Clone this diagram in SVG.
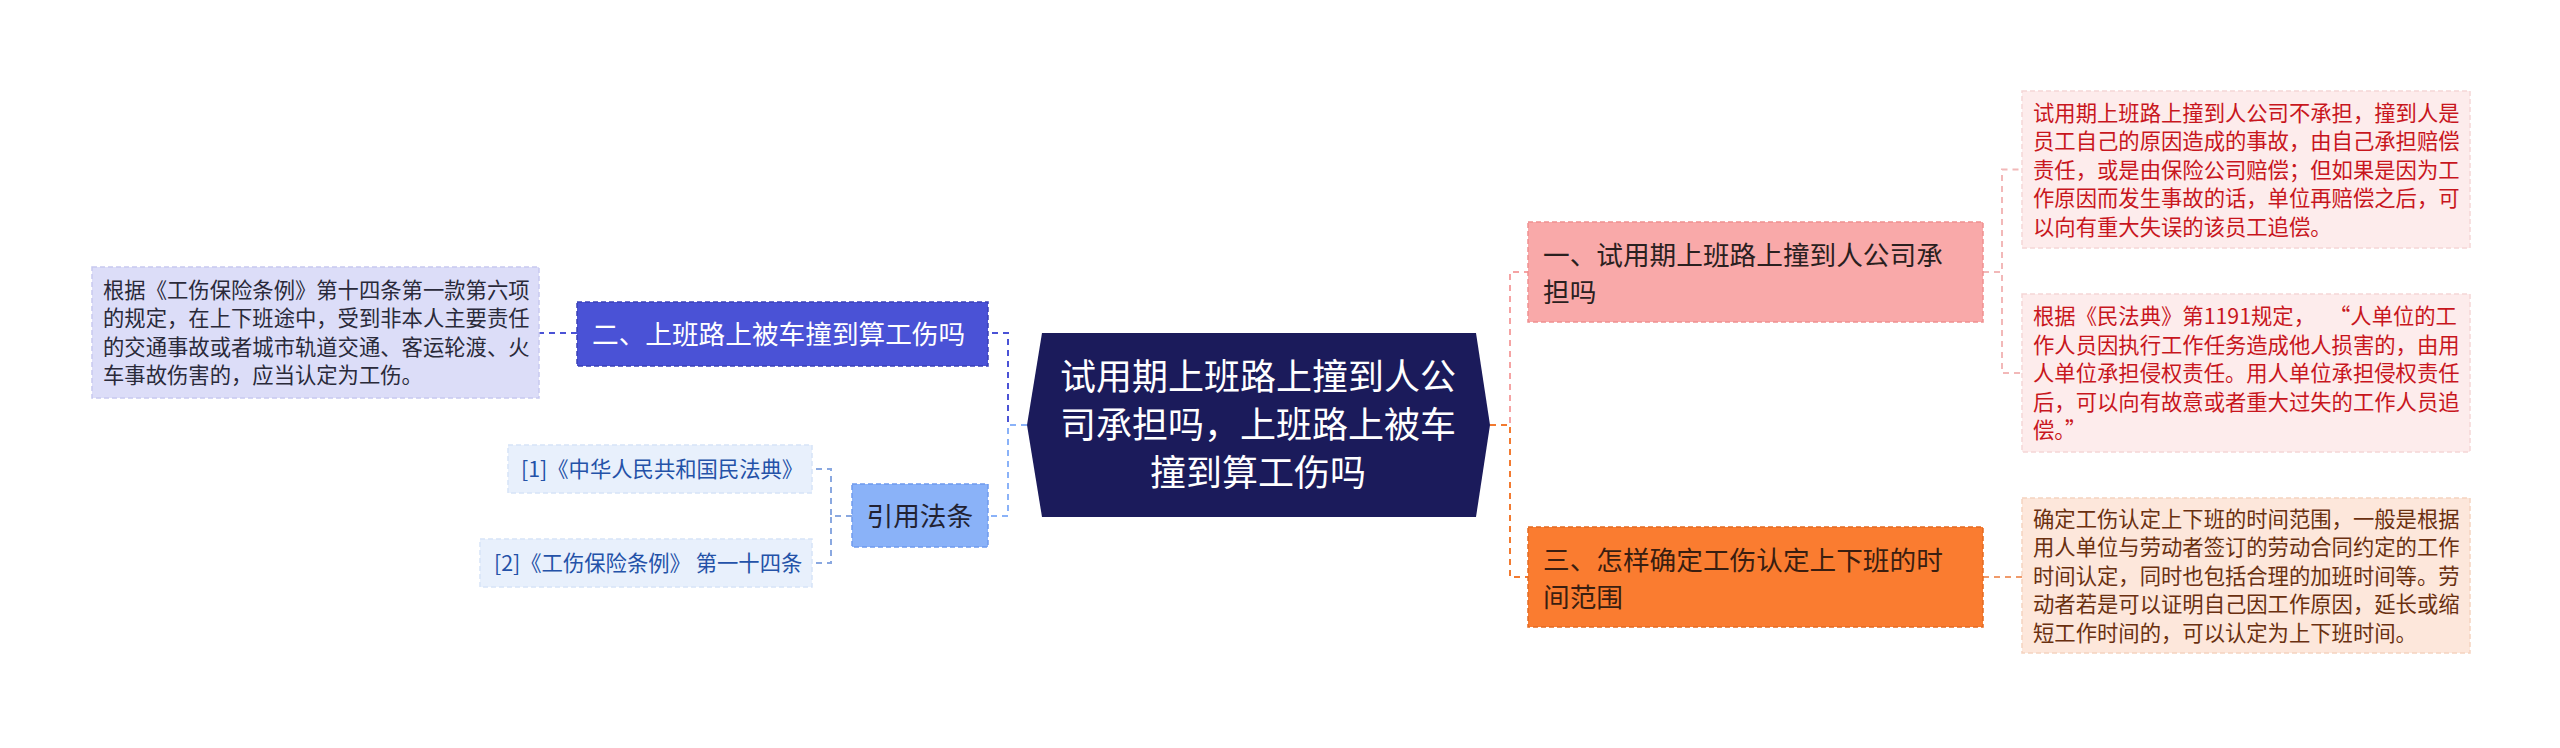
<svg xmlns="http://www.w3.org/2000/svg" width="2560" height="748" viewBox="0 0 2560 748">
<style>
text{font-family:"Noto Sans CJK SC","Noto Sans",sans-serif;}
.conn{fill:none;stroke-width:2;stroke-dasharray:6 5;}
.bx{stroke-width:1.5;stroke-dasharray:5 3;}
.c36{font-size:36px;fill:#ffffff;}
.c27{font-size:26.67px;}
.c21{font-size:21.33px;}
</style>
<rect width="2560" height="748" fill="#ffffff"/>
<g id="connectors">
<path class="conn" stroke="#4a52d6" d="M1027,425 H1008 V333 H988"/>
<path class="conn" stroke="#8ab2f8" d="M1027,425 H1008 V516 H988"/>
<path class="conn" stroke="#4a52d6" d="M577,333 H539"/>
<path class="conn" stroke="#8aa8e0" d="M852,516 H831 V469 H812"/>
<path class="conn" stroke="#8aa8e0" d="M852,516 H831 V563 H812"/>
<path class="conn" stroke="#f5a3a3" d="M1490,425 H1510 V272 H1528"/>
<path class="conn" stroke="#f27a30" d="M1490,425 H1510 V577 H1528"/>
<path class="conn" stroke="#f2b8b8" d="M1983,272 H2002 V169.5 H2022"/>
<path class="conn" stroke="#f2b8b8" d="M1983,272 H2002 V373 H2022"/>
<path class="conn" stroke="#f09a6a" d="M1983,577 H2022"/>
</g>
<g id="center">
<polygon points="1027,425 1042,333 1476,333 1490,425 1476,517 1042,517" fill="#1b1b5b"/>
<text class="c36" x="1258" y="389.5" text-anchor="middle">试用期上班路上撞到人公</text>
<text class="c36" x="1258" y="437.5" text-anchor="middle">司承担吗，上班路上被车</text>
<text class="c36" x="1258" y="485.5" text-anchor="middle">撞到算工伤吗</text>
</g>
<g id="node-er">
<rect class="bx" x="577" y="302" width="411" height="64" fill="#4a52d6" stroke="#3a40b8"/>
<text class="c27" x="592" y="344" fill="#ffffff">二、上班路上被车撞到算工伤吗</text>
</g>
<g id="node-er-detail">
<rect class="bx" x="92" y="267" width="447" height="131" fill="#dcddf8" stroke="#c7c9f0"/>
<text class="c21" fill="#2a2a3a">
<tspan x="103" y="297.8">根据《工伤保险条例》第十四条第一款第六项</tspan>
<tspan x="103" y="326.3">的规定，在上下班途中，受到非本人主要责任</tspan>
<tspan x="103" y="354.8">的交通事故或者城市轨道交通、客运轮渡、火</tspan>
<tspan x="103" y="383.3">车事故伤害的，应当认定为工伤。</tspan>
</text>
</g>
<g id="node-law">
<rect class="bx" x="852" y="484" width="136" height="63" fill="#8ab2f8" stroke="#6f9aee"/>
<text class="c27" x="866.5" y="525.5" fill="#222233">引用法条</text>
</g>
<g id="node-law1">
<rect class="bx" x="508" y="445" width="304" height="48" fill="#e8f0fc" stroke="#d6e3f8"/>
<text class="c21" x="521" y="477" fill="#2452a8">[1]《中华人民共和国民法典》</text>
</g>
<g id="node-law2">
<rect class="bx" x="480" y="539" width="332" height="48" fill="#e8f0fc" stroke="#d6e3f8"/>
<text class="c21" x="494" y="571" fill="#2452a8">[2]《工伤保险条例》 第一十四条</text>
</g>
<g id="node-yi">
<rect class="bx" x="1528" y="222" width="455" height="100" fill="#f9a9a9" stroke="#ef9090"/>
<text class="c27" fill="#2a2020">
<tspan x="1543" y="264.5">一、试用期上班路上撞到人公司承</tspan>
<tspan x="1543" y="301.5">担吗</tspan>
</text>
</g>
<g id="node-san">
<rect class="bx" x="1528" y="527" width="455" height="100" fill="#fa7c30" stroke="#e46a20"/>
<text class="c27" fill="#3a1e10">
<tspan x="1543" y="569.5">三、怎样确定工伤认定上下班的时</tspan>
<tspan x="1543" y="606.5">间范围</tspan>
</text>
</g>
<g id="node-yi-detail1">
<rect class="bx" x="2022" y="91" width="448" height="157" fill="#fdecec" stroke="#f5d6d6"/>
<text class="c21" fill="#c8161d">
<tspan x="2033" y="120.5">试用期上班路上撞到人公司不承担，撞到人是</tspan>
<tspan x="2033" y="149">员工自己的原因造成的事故，由自己承担赔偿</tspan>
<tspan x="2033" y="177.5">责任，或是由保险公司赔偿；但如果是因为工</tspan>
<tspan x="2033" y="206">作原因而发生事故的话，单位再赔偿之后，可</tspan>
<tspan x="2033" y="234.5">以向有重大失误的该员工追偿。</tspan>
</text>
</g>
<g id="node-yi-detail2">
<rect class="bx" x="2022" y="294" width="448" height="158" fill="#fdecec" stroke="#f5d6d6"/>
<text class="c21" fill="#c8161d">
<tspan x="2033" y="324">根据《民法典》第1191规定，</tspan><tspan dx="14" y="324">“人单位的工</tspan>
<tspan x="2033" y="352.5">作人员因执行工作任务造成他人损害的，由用</tspan>
<tspan x="2033" y="381">人单位承担侵权责任。用人单位承担侵权责任</tspan>
<tspan x="2033" y="409.5">后，可以向有故意或者重大过失的工作人员追</tspan>
<tspan x="2033" y="438">偿。”</tspan>
</text>
</g>
<g id="node-san-detail">
<rect class="bx" x="2022" y="498" width="448" height="155" fill="#fde7db" stroke="#f5d3c0"/>
<text class="c21" fill="#6a3010">
<tspan x="2033" y="526.5">确定工伤认定上下班的时间范围，一般是根据</tspan>
<tspan x="2033" y="555">用人单位与劳动者签订的劳动合同约定的工作</tspan>
<tspan x="2033" y="583.5">时间认定，同时也包括合理的加班时间等。劳</tspan>
<tspan x="2033" y="612">动者若是可以证明自己因工作原因，延长或缩</tspan>
<tspan x="2033" y="640.5">短工作时间的，可以认定为上下班时间。</tspan>
</text>
</g>
</svg>
